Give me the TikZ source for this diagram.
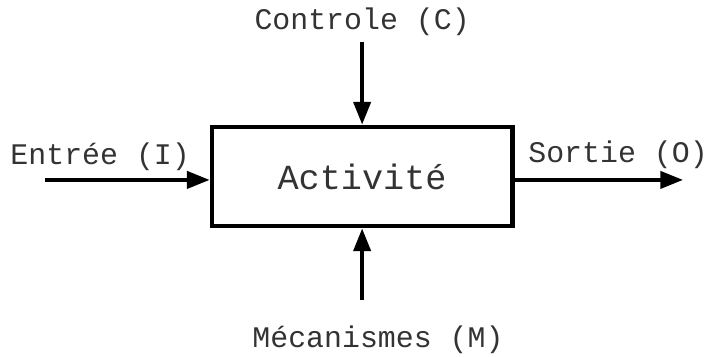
\documentclass[tikz,border=0pt]{standalone}
\usepackage{fontspec}
\setmonofont{Liberation Mono}
\usepackage{tikz}
\usetikzlibrary{arrows.meta}

\begin{document}
\begin{tikzpicture}[every path/.style={line width=2.9pt},
    flow/.style={-{Triangle[length=0.6cm, width=0.45cm]}},
    lbl/.style={text=black!80, font=\ttfamily\fontsize{22.5}{26}\selectfont, inner sep=0pt}]

    \useasboundingbox (0,0) rectangle (18.73,9.42);

    % the activity box
    \node[draw, 
        line width=3.6pt, 
        minimum width=7.94cm, 
        minimum height=2.62cm, 
        align=center, text=black!80,
        font=\ttfamily\fontsize{26.5}{30}\selectfont
        ] (act) at (9.58,4.75) {Activité};

    % the four labels
    \node[lbl] (ctl) at (9.58,8.84) {Controle (C)};

    \node[lbl] (inp) at (2.65,5.27) {Entrée (I)};

    \node[lbl] (out) at (16.35,5.32) {Sortie (O)};

    \node[lbl] (mec) at (10.0,0.42) {Mécanismes (M)};

    % loose ends of the arrows
    \coordinate (c0) at (9.58,8.31);
    \coordinate (m0) at (9.58,1.48);
    \coordinate (i0) at (1.19,4.66);
    \coordinate (o1) at (18.07,4.66);

    \draw[flow] (c0) -- (act.north);
    \draw[flow] (m0) -- (act.south);
    \draw[flow] (i0) -- (i0 -| act.west);
    \draw[flow] (o1 -| act.east) -- (o1);

\end{tikzpicture}
\end{document}
